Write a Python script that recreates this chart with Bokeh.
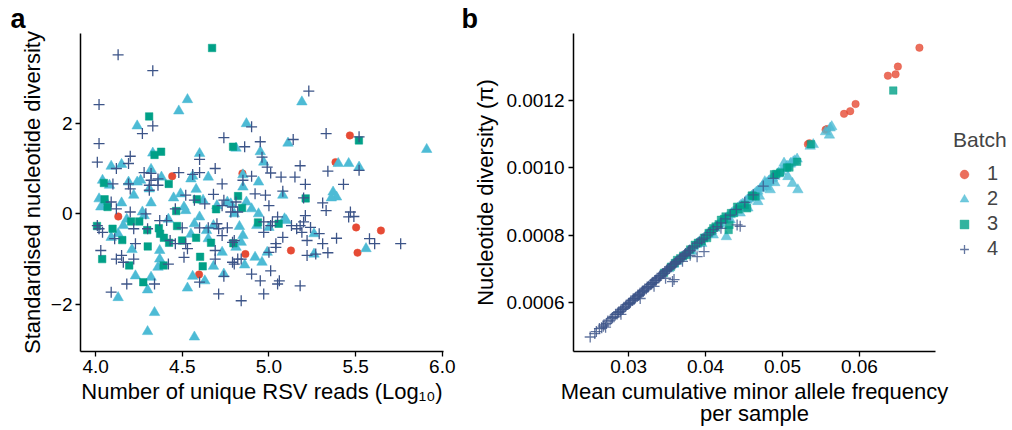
from bokeh.plotting import figure
from bokeh.layouts import row
from bokeh.models import (Range1d, FixedTicker, CustomJSTickFormatter, NumeralTickFormatter,
                          Legend, LegendItem, Title)
from bokeh.embed import file_html
from bokeh.resources import INLINE

FONT = "Liberation Sans"
BATCH_COLORS = ["#E64B35", "#4DBBD5", "#00A087", "#3C5488"]
BATCH_LABELS = ["1", "2", "3", "4"]

# ---------------- Panel a data: log10 reads vs standardised diversity ----------------
a1_x = [5.467, 5.384, 4.442, 4.847, 4.131, 5.503, 5.646, 5.127, 5.511, 4.864, 4.597]
a1_y = [1.73, 1.14, 0.83, 0.89, -0.06, -0.30, -0.37, -0.81, -0.86, -0.89, -1.34]

a2_x = [4.53, 4.48, 5.19, 4.24, 4.87, 5.11, 4.81, 5.91, 4.33, 4.60,
        4.95, 4.97, 5.40, 5.46, 5.52, 4.09, 4.15, 4.32, 4.38, 4.55,
        4.56, 4.65, 4.04, 4.08, 4.19, 4.24, 4.26, 4.85, 4.85, 4.94,
        4.31, 4.22, 4.49, 4.58, 4.76, 4.02, 4.06, 4.03, 4.15, 4.32,
        4.51, 4.52, 4.27, 4.28, 4.60, 5.08, 5.37, 5.39, 5.36, 4.87,
        4.90, 4.78, 4.94, 5.09, 5.10, 4.68, 4.57, 4.16, 4.83, 4.93,
        4.13, 4.09, 4.21, 4.37, 4.37, 4.36, 4.32, 4.23, 4.30, 4.13,
        4.53, 4.56, 4.63, 4.68, 4.73, 4.74, 4.65, 4.34, 4.30, 4.57,
        4.85, 4.84, 4.81, 4.92, 4.96, 4.86, 4.99, 5.26, 5.56, 5.26,
        4.64, 4.62, 4.80, 5.00, 4.45, 4.70, 4.42, 4.18, 4.55]
a2_y = [2.52, 2.27, 2.47, 1.94, 1.99, 1.56, 1.45, 1.42, 1.34, 1.33,
        1.37, 1.14, 1.11, 1.11, 1.03, 1.05, 1.09, 0.98, 0.81, 0.77,
        0.83, 0.81, 0.74, 0.63, 0.70, 0.70, 0.74, 0.86, 0.59, 0.70,
        0.55, 0.41, 0.44, 0.54, 0.26, 0.33, 0.26, 0.15, 0.24, 0.24,
        0.15, 0.07, 0.04, -0.04, -0.07, 0.41, 0.48, 0.37, 0.35, 0.26,
        0.11, 0.22, 0.00, -0.11, -0.15, -0.26, -0.22, -0.26, -0.28, -0.26,
        -0.44, -0.52, -0.79, -0.81, -1.00, -1.18, -1.40, -1.37, -1.68, -1.85,
        -1.64, -1.38, -1.48, -1.16, -0.85, -1.33, -0.55, -2.18, -2.60, -2.72,
        -0.48, -0.63, -0.74, -0.96, -1.07, -1.13, -0.85, -0.89, -0.77, -0.44,
        -0.37, 0.30, 0.00, -0.30, 0.35, 0.18, -0.12, -0.12, -0.45]

a3_x = [4.672, 4.309, 4.340, 4.378, 4.793, 5.519, 4.048, 4.422, 4.052, 4.069,
        4.822, 4.584, 4.845, 4.695, 4.465, 5.212, 4.008, 4.098, 4.205, 4.252,
        4.298, 4.154, 4.301, 4.038, 4.194, 4.275, 4.365, 4.372, 4.394, 4.424,
        4.470, 4.499, 4.580, 4.603, 4.618, 4.666, 4.795, 4.392, 4.937, 5.056]
a3_y = [3.66, 2.15, 1.30, 1.37, 1.48, 1.62, 0.68, 0.66, 0.32, 0.15,
        0.39, 0.32, 0.13, 0.10, 0.06, 0.34, -0.27, -0.33, -0.17, -0.17,
        -0.36, -0.58, -0.72, -1.00, -1.14, -1.51, -0.32, -0.44, -0.53, -0.64,
        -0.27, -0.59, -0.53, -0.95, -1.16, -0.64, -0.65, -1.14, -0.19, -0.22]

a4_x = [4.13, 4.33, 4.02, 5.23, 4.33, 4.27, 4.02, 4.90, 4.74, 4.86,
        4.95, 5.14, 5.33, 5.52, 4.01, 4.20, 4.19, 4.12, 4.60, 4.69,
        4.96, 4.99, 5.01, 5.07, 5.18, 5.15, 5.34, 5.52, 5.43, 5.21,
        4.28, 4.32, 4.36, 4.32, 4.48, 4.56, 4.60, 4.10, 4.19, 4.20,
        4.31, 4.31, 4.36, 4.73, 4.52, 4.68, 4.63, 4.74, 4.73, 4.09,
        4.12, 4.20, 4.29, 4.46, 4.37, 4.41, 4.01, 4.79, 4.82, 4.78,
        4.70, 4.76, 4.65, 4.60, 4.50, 4.90, 4.85, 5.08, 4.92, 4.98,
        4.81, 5.00, 5.20, 5.31, 5.33, 5.47, 5.46, 5.49, 5.21, 5.20,
        5.05, 5.13, 5.18, 4.97, 5.02, 5.01, 5.24, 4.02, 4.04, 4.22,
        4.30, 4.11, 4.23, 4.43, 4.46, 4.52, 4.53, 4.51, 4.69, 4.69,
        4.71, 4.73, 4.79, 4.80, 4.03, 4.12, 4.15, 4.22, 4.16, 4.18,
        4.09, 4.34, 4.42, 4.74, 4.71, 4.80, 4.97, 5.08, 5.16, 5.19,
        5.22, 5.29, 5.31, 5.04, 5.04, 5.00, 5.22, 5.27, 5.34, 5.39,
        5.58, 5.61, 5.76, 4.79, 4.82, 4.84, 4.90, 4.95, 5.01, 5.06,
        5.05, 5.18, 4.97, 4.84, 4.60, 4.57]
a4_y = [3.51, 3.16, 2.41, 2.71, 1.94, 1.77, 1.55, 1.92, 1.68, 1.48,
        1.59, 1.64, 1.77, 1.70, 1.14, 1.27, 1.11, 1.00, 1.20, 1.00,
        1.25, 1.03, 0.90, 0.81, 1.06, 0.81, 0.94, 0.96, 0.65, 0.65,
        0.91, 0.89, 0.77, 0.74, 0.91, 0.87, 0.91, 0.66, 0.66, 0.55,
        0.63, 0.52, 0.63, 0.66, 0.41, 0.43, 0.22, 0.30, 0.18, 0.26,
        0.11, 0.04, 0.00, 0.11, -0.15, -0.15, -0.26, 0.15, 0.04, 0.04,
        -0.22, -0.31, -0.31, -0.31, -0.31, 0.83, 0.74, 0.50, 0.44, 0.41,
        0.26, 0.18, 0.35, 0.24, 0.07, 0.04, -0.07, -0.06, -0.04, -0.18,
        -0.07, -0.26, -0.26, -0.18, -0.18, -0.26, -0.30, -0.33, -0.41, -0.33,
        -0.33, -0.55, -0.66, -0.59, -0.66, -0.66, -0.77, -0.96, -0.81, -1.00,
        -0.33, -0.48, -0.63, -0.59, -0.81, -1.00, -0.92, -1.00, -1.07, -1.55,
        -1.73, -1.55, -1.11, -1.38, -1.77, -1.11, -0.41, -0.52, -0.33, -0.41,
        -0.59, -0.44, -0.66, -0.66, -0.74, -0.85, -0.92, -0.89, -0.86, -0.54,
        -0.55, -0.66, -0.66, -1.07, -1.00, -1.00, -1.33, -1.48, -1.26, -1.48,
        -1.55, -1.59, -1.77, -1.92, -1.51, 0.30]

# ---------------- Panel b data: mean cumulative MAF vs nucleotide diversity ----------------
b1_x = [0.0678, 0.0650, 0.0647, 0.0637, 0.0595, 0.0588, 0.0580, 0.0558, 0.0533, 0.0556, 0.0535]
b1_y = [0.001355, 0.001299, 0.001276, 0.001272, 0.001188, 0.001167, 0.001159, 0.001114,
        0.001069, 0.001112, 0.001072]

b2_x = [0.0352, 0.0358, 0.0363, 0.0369, 0.0374, 0.0379, 0.0384, 0.0388, 0.0392, 0.0396,
        0.0400, 0.0404, 0.0408, 0.0412, 0.0416, 0.0420, 0.0424, 0.0428, 0.0432, 0.0436,
        0.0440, 0.0444, 0.0448, 0.0452, 0.0456, 0.0460, 0.0464, 0.0468, 0.0471, 0.0474,
        0.0477, 0.0480, 0.0483, 0.0486, 0.0490, 0.0494, 0.0498, 0.0502, 0.0506, 0.0510,
        0.0514, 0.0519, 0.0536, 0.0540, 0.0556, 0.0562, 0.0564,
        0.0427, 0.0520, 0.0513, 0.0507, 0.0561, 0.0468, 0.0479, 0.0484, 0.0477, 0.0502,
        0.0445, 0.0455, 0.0395, 0.0410, 0.0432, 0.0382, 0.0470, 0.0490,
        0.0402, 0.0418, 0.0434, 0.0446, 0.0458, 0.0466, 0.0473, 0.0478, 0.0482, 0.0487,
        0.0495, 0.0505, 0.0511, 0.0516, 0.0390, 0.0406, 0.0426, 0.0442, 0.0454, 0.0462]
b2_y = [0.000700, 0.000713, 0.000722, 0.000734, 0.000744, 0.000754, 0.000764, 0.000772, 0.000780, 0.000788,
        0.000796, 0.000804, 0.000812, 0.000820, 0.000828, 0.000836, 0.000844, 0.000852, 0.000860, 0.000868,
        0.000876, 0.000884, 0.000892, 0.000899, 0.000907, 0.000915, 0.000922, 0.000930, 0.000937, 0.000943,
        0.000950, 0.000955, 0.000961, 0.000966, 0.000974, 0.000981, 0.000988, 0.000996, 0.001004, 0.001010,
        0.001017, 0.001025, 0.001063, 0.001068, 0.001106, 0.001117, 0.001121,
        0.000795, 0.000934, 0.000953, 0.000973, 0.001096, 0.000899, 0.000943, 0.000934, 0.000958, 0.001013,
        0.000865, 0.000880, 0.000775, 0.000800, 0.000845, 0.000752, 0.000915, 0.000955,
        0.000801, 0.000832, 0.000864, 0.000888, 0.000911, 0.000927, 0.000941, 0.000951, 0.000959, 0.000969,
        0.000984, 0.001002, 0.001013, 0.001020, 0.000776, 0.000808, 0.000848, 0.000880, 0.000903, 0.000919]

b3_x = [0.0346, 0.0355, 0.0360, 0.0363, 0.0367, 0.0371, 0.0376, 0.0380, 0.0386, 0.0390,
        0.0395, 0.0398, 0.0402, 0.0404, 0.0408, 0.0410, 0.0413, 0.0417, 0.0420, 0.0424,
        0.0426, 0.0430, 0.0431, 0.0433, 0.0437, 0.0441, 0.0443, 0.0451, 0.0454, 0.0460,
        0.0465, 0.0462, 0.0489, 0.0492, 0.0497, 0.0506, 0.0509, 0.0519, 0.0537, 0.0644]
b3_y = [0.000688, 0.000706, 0.000717, 0.000726, 0.000731, 0.000739, 0.000741, 0.000757, 0.000771, 0.000777,
        0.000781, 0.000792, 0.000791, 0.000806, 0.000812, 0.000820, 0.000825, 0.000832, 0.000845, 0.000848,
        0.000855, 0.000815, 0.000830, 0.000865, 0.000865, 0.000884, 0.000876, 0.000889, 0.000879, 0.000917,
        0.000914, 0.000916, 0.000980, 0.000981, 0.000985, 0.001000, 0.001000, 0.001017, 0.001069, 0.001228]

b4_x = [0.0250, 0.0256, 0.0262, 0.0265, 0.0268, 0.0271, 0.0273, 0.0276, 0.0279, 0.0281,
        0.0283, 0.0285, 0.0287, 0.0289, 0.0290, 0.0292, 0.0294, 0.0296, 0.0297, 0.0299,
        0.0300, 0.0302, 0.0303, 0.0305, 0.0306, 0.0308, 0.0309, 0.0311, 0.0312, 0.0314,
        0.0315, 0.0317, 0.0318, 0.0320, 0.0321, 0.0323, 0.0324, 0.0326, 0.0328, 0.0329,
        0.0331, 0.0332, 0.0334, 0.0336, 0.0337, 0.0339, 0.0341, 0.0342, 0.0344, 0.0346,
        0.0347, 0.0349, 0.0351, 0.0353, 0.0354, 0.0356, 0.0358, 0.0360, 0.0362, 0.0364,
        0.0366, 0.0368, 0.0370, 0.0372, 0.0374, 0.0376, 0.0378, 0.0380, 0.0383, 0.0386,
        0.0389, 0.0392, 0.0395, 0.0398, 0.0402, 0.0406, 0.0410, 0.0415, 0.0420, 0.0426,
        0.0432, 0.0440, 0.0451, 0.0462, 0.0475, 0.0488,
        0.0357, 0.0359, 0.0389, 0.0398, 0.0441, 0.0445, 0.0315, 0.0333, 0.0348, 0.0370,
        0.0270, 0.0290, 0.0380, 0.0420,
        0.0258, 0.0267, 0.0278, 0.0286, 0.0293, 0.0301, 0.0307, 0.0313, 0.0319, 0.0325,
        0.0330, 0.0335, 0.0340, 0.0345, 0.0350, 0.0355, 0.0361, 0.0367, 0.0373, 0.0379]
b4_y = [0.000498, 0.000508, 0.000523, 0.000525, 0.000534, 0.000538, 0.000545, 0.000548, 0.000556, 0.000558,
        0.000565, 0.000566, 0.000572, 0.000573, 0.000578, 0.000580, 0.000586, 0.000588, 0.000593, 0.000594,
        0.000598, 0.000600, 0.000605, 0.000606, 0.000611, 0.000612, 0.000616, 0.000618, 0.000622, 0.000624,
        0.000628, 0.000630, 0.000634, 0.000636, 0.000640, 0.000641, 0.000646, 0.000648, 0.000653, 0.000654,
        0.000659, 0.000660, 0.000665, 0.000667, 0.000672, 0.000673, 0.000679, 0.000680, 0.000685, 0.000687,
        0.000692, 0.000694, 0.000699, 0.000701, 0.000705, 0.000708, 0.000713, 0.000715, 0.000721, 0.000723,
        0.000729, 0.000731, 0.000737, 0.000739, 0.000745, 0.000747, 0.000753, 0.000755, 0.000762, 0.000767,
        0.000775, 0.000779, 0.000786, 0.000791, 0.000800, 0.000807, 0.000816, 0.000825, 0.000836, 0.000848,
        0.000859, 0.000876, 0.000897, 0.000919, 0.000945, 0.000968,
        0.000662, 0.000668, 0.000736, 0.000751, 0.000830, 0.000826, 0.000612, 0.000648, 0.000672, 0.000722,
        0.000527, 0.000565, 0.000740, 0.000820,
        0.000514, 0.000530, 0.000553, 0.000570, 0.000582, 0.000597, 0.000610, 0.000621, 0.000633, 0.000645,
        0.000656, 0.000666, 0.000676, 0.000686, 0.000697, 0.000706, 0.000718, 0.000730, 0.000742, 0.000754]

a_xticks = [4.0, 4.5, 5.0, 5.5, 6.0]
a_yticks = [-2, 0, 2]
b_xticks = [0.03, 0.04, 0.05, 0.06]
b_yticks = [0.0006, 0.0008, 0.0010, 0.0012]


def style_axes(p):
    p.outline_line_color = None
    p.xgrid.grid_line_color = None
    p.ygrid.grid_line_color = None
    p.background_fill_color = "white"
    p.border_fill_color = "white"
    for ax in p.axis:
        ax.axis_line_width = 1.5
        ax.axis_line_color = "black"
        ax.major_tick_line_color = "black"
        ax.major_tick_line_width = 1.3
        ax.major_tick_out = 5
        ax.major_tick_in = 0
        ax.minor_tick_line_color = None
        ax.major_label_text_font = FONT
        ax.major_label_text_font_size = "19px"
        ax.major_label_text_color = "black"
        ax.axis_label_text_font = FONT
        ax.axis_label_text_font_size = "22px"
        ax.axis_label_text_font_style = "normal"
        ax.axis_label_text_color = "black"
        ax.major_label_standoff = 3
        ax.axis_label_standoff = 3


def add_batches(p, data, alpha, visible=True):
    renderers = []
    markers = ["circle", "triangle", "square", "cross"]
    sizes = [7.5, 10.5, 7.5, 11]
    for (xs, ys), m, s, c in zip(data, markers, sizes, BATCH_COLORS):
        if m == "cross":
            r = p.scatter(xs, ys, marker=m, size=s, line_color=c, line_width=1.3,
                          line_alpha=alpha)
        else:
            r = p.scatter(xs, ys, marker=m, size=s, fill_color=c, line_color=c,
                          fill_alpha=alpha, line_alpha=alpha, line_width=0.5)
        r.visible = visible
        renderers.append(r)
    return renderers


def panel_letter(letter, offset):
    return Title(text=letter, align="left", offset=offset, standoff=0,
                 text_font=FONT, text_font_size="27px", text_font_style="bold",
                 text_color="black")


# ---------------- Panel a ----------------
pa = figure(width=460, height=430, output_backend="svg", toolbar_location=None,
            x_range=Range1d(3.913, 6.007), y_range=Range1d(-3.04, 3.98),
            min_border_left=80, min_border_right=17, min_border_top=33, min_border_bottom=79,
            title=panel_letter("a", -70))
add_batches(pa, [(a1_x, a1_y), (a2_x, a2_y), (a3_x, a3_y), (a4_x, a4_y)], 1.0)
style_axes(pa)
pa.xaxis.ticker = FixedTicker(ticks=a_xticks)
pa.yaxis.ticker = FixedTicker(ticks=a_yticks)
pa.xaxis.formatter = NumeralTickFormatter(format="0.0")
pa.yaxis.formatter = CustomJSTickFormatter(
    code="return (tick < 0 ? '\u2212' : '') + Math.abs(tick).toString();")
pa.xaxis.axis_label = "Number of unique RSV reads (Log\u2081\u2080)"
pa.yaxis.axis_label = "Standardised nucleotide diversity"

# ---------------- Panel b ----------------
b_data = [(b1_x, b1_y), (b2_x, b2_y), (b3_x, b3_y), (b4_x, b4_y)]
pb = figure(width=491, height=430, output_backend="svg", toolbar_location=None,
            x_range=Range1d(0.02283, 0.06989), y_range=Range1d(0.000455, 0.001397),
            min_border_left=113, min_border_right=16, min_border_top=33, min_border_bottom=79,
            title=panel_letter("b", -112))
add_batches(pb, b_data, 0.8)
style_axes(pb)
pb.xaxis.ticker = FixedTicker(ticks=b_xticks)
pb.yaxis.ticker = FixedTicker(ticks=b_yticks)
pb.xaxis.formatter = NumeralTickFormatter(format="0.00")
pb.yaxis.formatter = NumeralTickFormatter(format="0.0000")
pb.xaxis.axis_label = "Mean cumulative minor allele frequency\nper sample"
pb.xaxis.axis_label_text_line_height = 0.9
pb.yaxis.axis_label = "Nucleotide diversity (\u03c0)"
pb.yaxis.axis_label_standoff = 5
pb.yaxis.major_label_standoff = 4

# ---------------- Legend strip (right of panel b) ----------------
pc = figure(width=61, height=430, output_backend="svg", toolbar_location=None,
            x_axis_location=None, y_axis_location=None,
            x_range=Range1d(0, 1), y_range=Range1d(0, 1),
            min_border_left=0, min_border_right=0, min_border_top=33, min_border_bottom=79)
pc.outline_line_color = None
pc.xgrid.grid_line_color = None
pc.ygrid.grid_line_color = None
rc = add_batches(pc, b_data, 0.8, visible=False)   # key glyphs only

legend = Legend(items=[LegendItem(label=lab, renderers=[r]) for lab, r in zip(BATCH_LABELS, rc)],
                location=(2, 91), title="Batch")
legend.title_text_font = FONT
legend.title_text_font_size = "21px"
legend.title_text_font_style = "normal"
legend.title_standoff = 10
legend.label_text_font = FONT
legend.label_text_font_size = "20px"
legend.glyph_width = 22
legend.glyph_height = 22
legend.label_height = 22
legend.spacing = 2
legend.padding = 0
legend.margin = 0
legend.label_standoff = 12
legend.border_line_color = None
legend.background_fill_alpha = 0
legend.inactive_fill_alpha = 0
legend.click_policy = "none"
pc.add_layout(legend)

layout = row(pa, pb, pc)
open("out.html", "w").write(file_html(layout, INLINE))
